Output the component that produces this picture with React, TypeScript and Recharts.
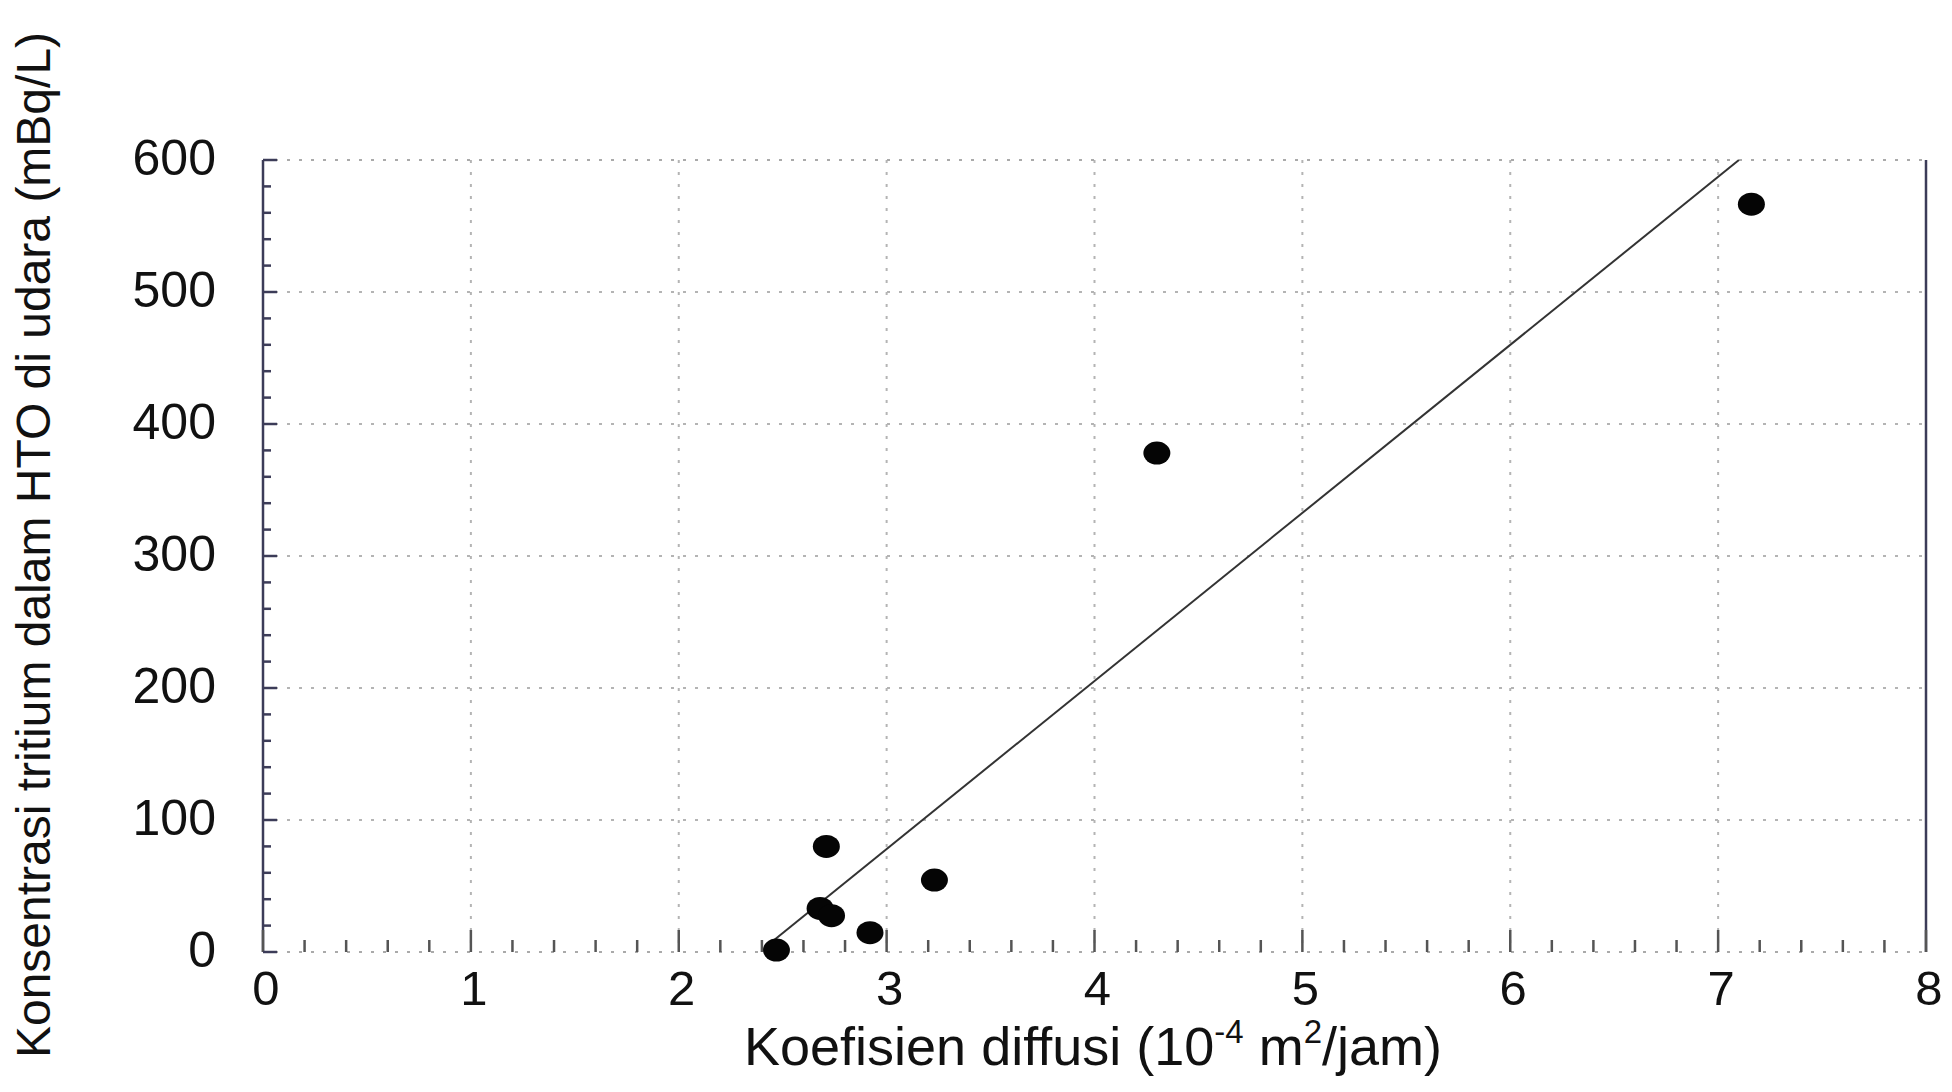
import React from 'react';
import { ScatterChart, Scatter, XAxis, YAxis, CartesianGrid } from 'recharts';

// Measured data (diffusion coefficient in 10^-4 m2/jam, HTO tritium concentration in mBq/L)
const diffusion = [2.47, 2.71, 2.68, 2.735, 2.92, 3.23, 4.3, 7.16];
const tritium = [1.5, 80, 33, 27.5, 14.6, 54.5, 378, 566.5];

// Fitted regression line end points
const fitX = [2.45, 7.1];
const fitY = [8, 600];

// Tick values
const xMajorTicks = [0, 1, 2, 3, 4, 5, 6, 7, 8];
const yMajorTicks = [0, 100, 200, 300, 400, 500, 600];
const xAllTicks = Array.from({ length: 41 }, (_, i) => Math.round(i * 2) / 10);
const yAllTicks = Array.from({ length: 31 }, (_, i) => i * 20);
const xGridValues = [1, 2, 3, 4, 5, 6, 7];
const yGridValues = [100, 200, 300, 400, 500];

const points = diffusion.map((x, i) => ({ x, y: tritium[i] }));
const fitLine = fitX.map((x, i) => ({ x, y: fitY[i] }));

const FONT = '"Liberation Sans", Arial, Helvetica, sans-serif';
const TICK_COLOR = '#555';
const AXIS_COLOR = '#3c3c58';

const isMultiple = (v: number, step: number) => Math.abs(v / step - Math.round(v / step)) < 1e-6;

function BottomTick(props: any) {
  const { x, y, payload } = props;
  const v = payload.value;
  const major = isMultiple(v, 1);
  return (
    <g>
      <line x1={x} x2={x} y1={y} y2={y - (major ? 22 : 12)} stroke={TICK_COLOR} strokeWidth={2.5} />
      {major && xMajorTicks.includes(Math.round(v)) && (
        <text x={x + 3} y={y + 53} textAnchor="middle" fontSize={49} fill="#111" fontFamily={FONT}>
          {Math.round(v)}
        </text>
      )}
    </g>
  );
}

function TopTick(props: any) {
  const { x, y, payload } = props;
  const major = isMultiple(payload.value, 1);
  return <line x1={x} x2={x} y1={y} y2={y + (major ? 17 : 9)} stroke={TICK_COLOR} strokeWidth={2.5} />;
}

function LeftTick(props: any) {
  const { x, y, payload } = props;
  const v = payload.value;
  const major = isMultiple(v, 100);
  return (
    <g>
      <line x1={x} x2={x + (major ? 14 : 8)} y1={y} y2={y} stroke={AXIS_COLOR} strokeWidth={2.5} />
      {major && yMajorTicks.includes(v) && (
        <text x={x - 47} y={y + 15} textAnchor="end" fontSize={50} fill="#111" fontFamily={FONT}>
          {v}
        </text>
      )}
    </g>
  );
}

function RightTick(props: any) {
  const { x, y, payload } = props;
  const major = isMultiple(payload.value, 100);
  return <line x1={x} x2={x - (major ? 15 : 9)} y1={y} y2={y} stroke={AXIS_COLOR} strokeWidth={2.5} />;
}

const Dot = (props: any) => {
  const { cx, cy } = props;
  if (cx == null || cy == null) return <g />;
  return <ellipse cx={cx} cy={cy} rx={13.5} ry={11.5} fill="#050505" />;
};

const NoDot = () => <g />;

const XTitle = () => (
  <text x={1085} y={1057} textAnchor="middle" fontSize={54} fill="#111" fontFamily={FONT}>
    <tspan>Koefisien diffusi (10</tspan>
    <tspan fontSize={33} dy={-22}>-4</tspan>
    <tspan dy={22}> m</tspan>
    <tspan fontSize={33} dy={-22}>2</tspan>
    <tspan dy={22}>/jam)</tspan>
  </text>
);

const YTitle = () => (
  <text
    x={42}
    y={537}
    transform="rotate(-90 42 537)"
    textAnchor="middle"
    fontSize={48}
    fill="#111"
    fontFamily={FONT}
  >
    Konsentrasi tritium dalam HTO di udara (mBq/L)
  </text>
);

export default function App() {
  return (
    <div style={{ width: 1936, height: 1076, background: '#fff' }}>
      <ScatterChart width={1936} height={1076} margin={{ top: 151, right: 17, bottom: 0, left: 0 }}>
        <CartesianGrid
          stroke="#b4b4b4"
          strokeWidth={2}
          strokeDasharray="3 9"
          verticalValues={xGridValues}
          horizontalValues={yGridValues}
        />
        <XAxis
          xAxisId={0}
          type="number"
          dataKey="x"
          domain={[0, 8]}
          ticks={xAllTicks}
          interval={0}
          tickSize={0}
          tickMargin={0}
          tickLine={false}
          tick={(p: any) => <BottomTick {...p} />}
          axisLine={{ stroke: '#aaa', strokeWidth: 2, strokeDasharray: '3 9' }}
          height={132}
          orientation="bottom"
          label={{ content: () => <XTitle /> }}
        />
        <XAxis
          xAxisId="top"
          type="number"
          dataKey="x"
          domain={[0, 8]}
          ticks={xAllTicks}
          interval={0}
          tickSize={0}
          tickMargin={0}
          tickLine={false}
          tick={(p: any) => <TopTick {...p} />}
          axisLine={{ stroke: '#aaa', strokeWidth: 2, strokeDasharray: '3 9' }}
          height={1}
          orientation="top"
        />
        <YAxis
          yAxisId={0}
          type="number"
          dataKey="y"
          domain={[0, 600]}
          ticks={yAllTicks}
          interval={0}
          tickSize={0}
          tickMargin={0}
          tickLine={false}
          tick={(p: any) => <LeftTick {...p} />}
          axisLine={{ stroke: AXIS_COLOR, strokeWidth: 2.5 }}
          width={255}
          orientation="left"
          label={{ content: () => <YTitle /> }}
        />
        <YAxis
          yAxisId="right"
          type="number"
          dataKey="y"
          domain={[0, 600]}
          ticks={yAllTicks}
          interval={0}
          tickSize={0}
          tickMargin={0}
          tickLine={false}
          tick={(p: any) => <RightTick {...p} />}
          axisLine={{ stroke: AXIS_COLOR, strokeWidth: 2.5 }}
          width={1}
          orientation="right"
        />
        <Scatter
          data={fitLine}
          xAxisId={0}
          yAxisId={0}
          line={{ stroke: '#333', strokeWidth: 2 }}
          shape={NoDot}
          isAnimationActive={false}
        />
        <Scatter data={points} xAxisId={0} yAxisId={0} shape={Dot} isAnimationActive={false} />
      </ScatterChart>
    </div>
  );
}
